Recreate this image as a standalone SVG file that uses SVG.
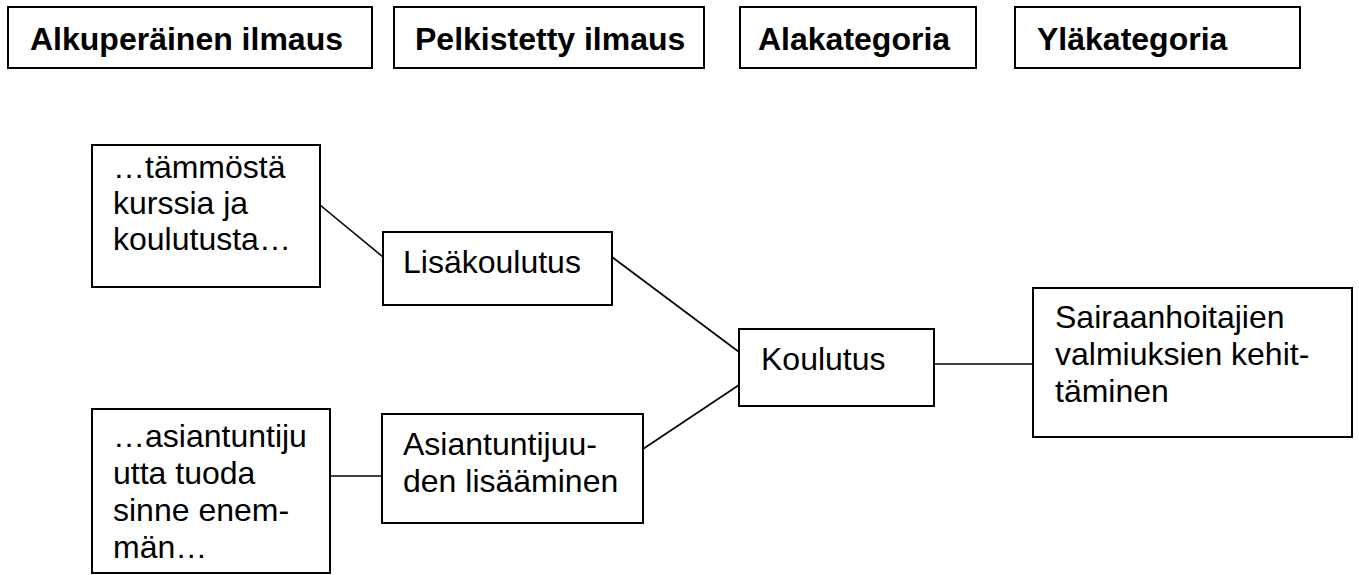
<svg xmlns="http://www.w3.org/2000/svg" width="1359" height="575" viewBox="0 0 1359 575">
<style>
.box{fill:#fff;stroke:#000;stroke-width:2}
.hd{font-family:"Liberation Sans",Arial,sans-serif;font-size:32px;font-weight:bold;fill:#000}
.tx{font-family:"Liberation Sans",Arial,sans-serif;font-size:32px;fill:#000}
.ln{stroke:#000;stroke-width:1.6;fill:none}
</style>
<rect width="1359" height="575" fill="#fff"/>
<g id="connectors">
<line class="ln" x1="320" y1="205" x2="383" y2="257"/>
<line class="ln" x1="612" y1="257" x2="739" y2="352"/>
<line class="ln" x1="643" y1="449" x2="739" y2="385"/>
<line class="ln" x1="934" y1="364" x2="1033" y2="364"/>
<line class="ln" x1="330" y1="476" x2="382" y2="476"/>
</g>
<g id="h1"><rect class="box" x="8" y="7" width="364" height="61"/><text class="hd" x="30" y="50">Alkuperäinen ilmaus</text></g>
<g id="h2"><rect class="box" x="394" y="7" width="310" height="61"/><text class="hd" x="415" y="50">Pelkistetty ilmaus</text></g>
<g id="h3"><rect class="box" x="740" y="7" width="236" height="61"/><text class="hd" x="758" y="50">Alakategoria</text></g>
<g id="h4"><rect class="box" x="1015" y="7" width="285" height="61"/><text class="hd" x="1037" y="50">Yläkategoria</text></g>
<g id="orig1"><rect class="box" x="92" y="145" width="228" height="142"/><text class="tx"><tspan x="113" y="178">…tämmöstä</tspan><tspan x="113" y="214">kurssia ja</tspan><tspan x="113" y="250">koulutusta…</tspan></text></g>
<g id="orig2"><rect class="box" x="92" y="409" width="238" height="164"/><text class="tx"><tspan x="113" y="447">…asiantuntiju</tspan><tspan x="113" y="484">utta tuoda</tspan><tspan x="113" y="521">sinne enem-</tspan><tspan x="113" y="558">män…</tspan></text></g>
<g id="sub1"><rect class="box" x="383" y="232" width="229" height="73"/><text class="tx" x="403" y="273">Lisäkoulutus</text></g>
<g id="sub2"><rect class="box" x="382" y="414" width="261" height="109"/><text class="tx"><tspan x="403" y="455">Asiantuntijuu-</tspan><tspan x="403" y="492">den lisääminen</tspan></text></g>
<g id="cat"><rect class="box" x="739" y="329" width="195" height="77"/><text class="tx" x="761" y="370">Koulutus</text></g>
<g id="top"><rect class="box" x="1033" y="288" width="319" height="149"/><text class="tx"><tspan x="1055" y="328">Sairaanhoitajien</tspan><tspan x="1055" y="365">valmiuksien kehit-</tspan><tspan x="1055" y="402">täminen</tspan></text></g>
</svg>
